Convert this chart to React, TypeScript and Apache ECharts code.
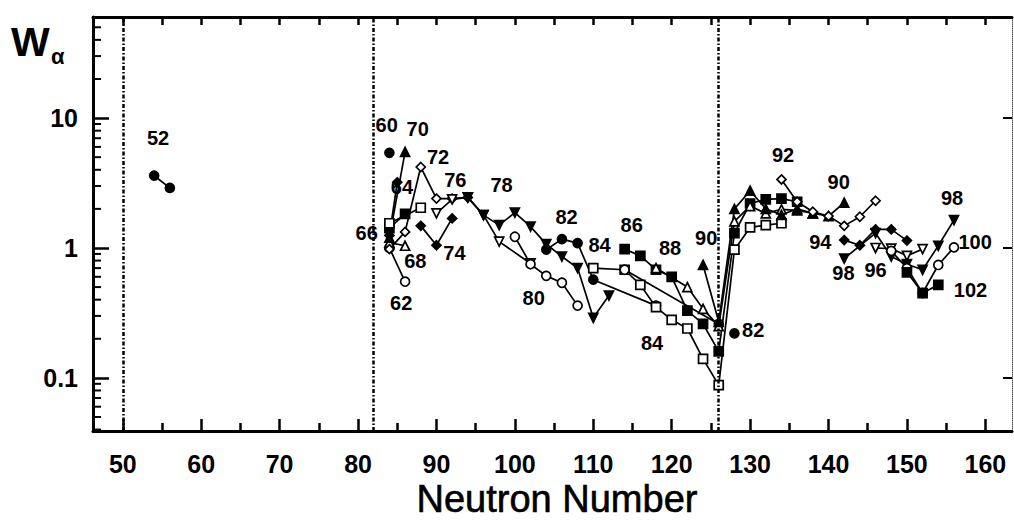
import React, { useEffect, useRef } from "react";
import * as echarts from "echarts";

// ---------- axes ----------
const xMin = 46.2;
const xMax = 163.4;
const yMin = 0.039;
const yMax = 60;
const majorX = [50, 60, 70, 80, 90, 100, 110, 120, 130, 140, 150, 160];
const minorX = [55, 65, 75, 85, 95, 105, 115, 125, 135, 145, 155];
const topX = [50, 55, 60, 65, 70, 75, 80, 85, 90, 95, 100, 105, 110, 115, 120, 125, 130, 135, 140, 145, 150, 155, 160];
const majorY = [0.1, 1, 10];
const majorYLabels = ["0.1", "1", "10"];
const minorY = [0.04, 0.05, 0.06, 0.07, 0.08, 0.09, 0.2, 0.3, 0.4, 0.5, 0.6, 0.7, 0.8, 0.9, 2, 3, 4, 5, 6, 7, 8, 9, 20, 30, 40, 50];
const magicN = [50, 82, 126];

// ---------- data: [neutron number, W_alpha] ----------
const Z52 = [[54, 3.6], [56, 2.9]];
const Z60 = [[84, 5.4]];
const Z62 = [[84, 1.0], [86, 0.55]];
const Z64 = [[84, 1.25], [85, 3.2]];
const Z66 = [[84, 1.42], [86, 1.83]];
const Z66b = [[84, 1.55], [88, 2.04]];
const Z68 = [[84, 1.1], [86, 1.04]];
const Z70 = [[84, 1.2], [86, 5.5]];
const Z72 = [[84, 0.98], [86, 1.33], [88, 4.2], [90, 2.4], [92, 2.4], [94, 2.45]];
const Z74 = [[88, 1.48], [90, 1.05], [92, 1.69]];
const Z76 = [[90, 1.85], [92, 2.37], [94, 2.45], [96, 1.79], [98, 1.12], [102, 0.76]];
const Z78 = [[94, 2.45], [96, 1.79], [98, 1.5], [100, 1.87], [102, 1.46], [104, 1.07], [106, 0.86], [108, 0.7], [110, 0.29], [112, 0.43]];
const Z80 = [[100, 1.22], [102, 0.75], [104, 0.61], [106, 0.54], [108, 0.36]];
const Z82 = [[104, 0.97], [106, 1.17], [108, 1.09], [110, 0.57], [118, 0.36]];
const Z84 = [[110, 0.7], [114, 0.68], [116, 0.52], [118, 0.35], [120, 0.28], [122, 0.24], [124, 0.14], [126, 0.088], [128, 0.97], [130, 1.44], [132, 1.5], [134, 1.55]];
const Z84b = [[114, 0.68], [126, 0.26]];
const Z86 = [[114, 0.98], [116, 0.87], [118, 0.68], [120, 0.6], [122, 0.33], [124, 0.26], [126, 0.16], [128, 1.3], [130, 2.2], [132, 2.37], [134, 2.4], [136, 2.27]];
const Z88 = [[118, 0.7], [122, 0.5], [124, 0.34], [126, 0.25], [128, 1.6], [130, 2.1], [132, 1.85], [134, 1.98], [136, 1.95], [138, 1.85]];
const Z90 = [[124, 0.74], [126, 0.27], [128, 2.0], [130, 2.76], [132, 2.0], [134, 1.8], [136, 2.0], [138, 1.85], [140, 1.76], [142, 2.23]];
const Z82r = [[128, 0.22]];
const Z92 = [[134, 3.37], [136, 2.27], [138, 1.9], [140, 1.76], [142, 1.48], [144, 1.74], [146, 2.31]];
const Z94 = [[142, 1.15], [144, 1.05], [146, 1.39], [148, 1.39], [150, 1.14]];
const Z96 = [[146, 1.0], [148, 0.99], [150, 0.87], [152, 0.98]];
const Z98 = [[142, 0.83], [146, 1.3], [148, 0.86], [150, 0.75], [152, 0.68], [154, 1.04], [156, 1.64]];
const Z100 = [[148, 0.95], [150, 0.7], [152, 0.45], [154, 0.74], [156, 1.01]];
const Z102 = [[150, 0.65], [152, 0.45], [154, 0.52]];

// ---------- Z labels ----------
const zLabels = [
  { t: "52", n: 54.5, w: 6.98 },
  { t: "60", n: 83.65, w: 8.8 },
  { t: "70", n: 87.6, w: 8.3 },
  { t: "72", n: 90.2, w: 5.03 },
  { t: "64", n: 85.6, w: 2.96 },
  { t: "76", n: 92.4, w: 3.34 },
  { t: "78", n: 98.3, w: 3.05 },
  { t: "66", n: 81.1, w: 1.3 },
  { t: "68", n: 87.3, w: 0.8 },
  { t: "74", n: 92.3, w: 0.92 },
  { t: "62", n: 85.5, w: 0.375 },
  { t: "82", n: 106.6, w: 1.74 },
  { t: "84", n: 110.8, w: 1.05 },
  { t: "86", n: 114.9, w: 1.5 },
  { t: "88", n: 119.8, w: 1.0 },
  { t: "90", n: 124.4, w: 1.19 },
  { t: "80", n: 102.4, w: 0.41 },
  { t: "84", n: 117.5, w: 0.185 },
  { t: "82", n: 130.4, w: 0.234 },
  { t: "92", n: 134.2, w: 5.19 },
  { t: "90", n: 141.3, w: 3.24 },
  { t: "94", n: 138.95, w: 1.12 },
  { t: "98", n: 141.9, w: 0.64 },
  { t: "96", n: 146.0, w: 0.68 },
  { t: "98", n: 155.75, w: 2.41 },
  { t: "100", n: 158.7, w: 1.12 },
  { t: "102", n: 158.1, w: 0.475 },
];

const DOWN = "path://M0,0L10,0L5,9Z";
const SYM: Record<string, { symbol: string; fill: string }> = {
  fc: { symbol: "circle", fill: "#000" },
  oc: { symbol: "circle", fill: "#fff" },
  fs: { symbol: "rect", fill: "#000" },
  os: { symbol: "rect", fill: "#fff" },
  ft: { symbol: "triangle", fill: "#000" },
  ot: { symbol: "triangle", fill: "#fff" },
  fd: { symbol: "diamond", fill: "#000" },
  od: { symbol: "diamond", fill: "#fff" },
  fv: { symbol: DOWN, fill: "#000" },
  ov: { symbol: DOWN, fill: "#fff" },
};

const seriesDefs: { name: string; data: number[][]; m: string }[] = [
  { name: "Z52", data: Z52, m: "fc" },
  { name: "Z60", data: Z60, m: "fc" },
  { name: "Z62", data: Z62, m: "oc" },
  { name: "Z64", data: Z64, m: "fd" },
  { name: "Z66", data: Z66, m: "fs" },
  { name: "Z66b", data: Z66b, m: "os" },
  { name: "Z68", data: Z68, m: "ot" },
  { name: "Z70", data: Z70, m: "ft" },
  { name: "Z72", data: Z72, m: "od" },
  { name: "Z74", data: Z74, m: "fd" },
  { name: "Z76", data: Z76, m: "ov" },
  { name: "Z78", data: Z78, m: "fv" },
  { name: "Z80", data: Z80, m: "oc" },
  { name: "Z82", data: Z82, m: "fc" },
  { name: "Z84", data: Z84, m: "os" },
  { name: "Z84b", data: Z84b, m: "oc" },
  { name: "Z86", data: Z86, m: "fs" },
  { name: "Z88", data: Z88, m: "ot" },
  { name: "Z90", data: Z90, m: "ft" },
  { name: "Z82r", data: Z82r, m: "fc" },
  { name: "Z92", data: Z92, m: "od" },
  { name: "Z94", data: Z94, m: "fd" },
  { name: "Z96", data: Z96, m: "ov" },
  { name: "Z98", data: Z98, m: "fv" },
  { name: "Z100", data: Z100, m: "oc" },
  { name: "Z102", data: Z102, m: "fs" },
];

const FONT = "'Liberation Sans', Arial, Helvetica, sans-serif";

function buildOption(): any {
  const lineSeries = seriesDefs.map((s) => ({
    type: "line",
    name: s.name,
    xAxisIndex: 0,
    yAxisIndex: 0,
    data: s.data,
    symbol: SYM[s.m].symbol,
    symbolSize: 9,
    showAllSymbol: true,
    silent: true,
    z: 3,
    lineStyle: { color: "#000", width: 1.7 },
    itemStyle: { color: SYM[s.m].fill, borderColor: "#000", borderWidth: 1.7 },
    emphasis: { disabled: true },
  }));

  return {
    animation: false,
    backgroundColor: "#fff",
    grid: { left: 93, right: 2, top: 17, bottom: 89, containLabel: false },
    xAxis: [
      {
        type: "value",
        min: xMin,
        max: xMax,
        position: "bottom",
        axisLine: { show: true, onZero: false, lineStyle: { color: "#000", width: 3 } },
        axisTick: { show: true, inside: true, length: 12, customValues: majorX, lineStyle: { color: "#000", width: 2.5 } },
        axisLabel: { show: true, customValues: majorX, margin: 20, fontSize: 25, fontWeight: "bold", color: "#000", fontFamily: FONT },
        splitLine: { show: false },
      },
      {
        type: "value",
        min: xMin,
        max: xMax,
        position: "bottom",
        axisLine: { show: false, onZero: false },
        axisTick: { show: true, inside: true, length: 8, customValues: minorX, lineStyle: { color: "#000", width: 2.5 } },
        axisLabel: { show: false },
        splitLine: { show: false },
      },
      {
        type: "value",
        min: xMin,
        max: xMax,
        position: "top",
        axisLine: { show: true, onZero: false, lineStyle: { color: "#000", width: 3 } },
        axisTick: { show: true, inside: true, length: 8, customValues: topX, lineStyle: { color: "#000", width: 2.5 } },
        axisLabel: { show: false },
        splitLine: { show: false },
      },
    ],
    yAxis: [
      {
        type: "log",
        logBase: 10,
        min: yMin,
        max: yMax,
        position: "left",
        axisLine: { show: true, onZero: false, lineStyle: { color: "#000", width: 3 } },
        axisTick: { show: true, inside: true, length: 16, lineStyle: { color: "#000", width: 2.5 } },
        axisLabel: {
          show: true,
          margin: 15,
          fontSize: 25,
          fontWeight: "bold",
          color: "#000",
          fontFamily: FONT,
          formatter: (v: number) => {
            const i = majorY.findIndex((m) => Math.abs(v - m) / m < 1e-6);
            return i >= 0 ? majorYLabels[i] : "";
          },
        },
        splitLine: { show: false },
        minorTick: { show: false },
      },
      {
        type: "log",
        logBase: 10,
        min: yMin,
        max: yMax,
        position: "right",
        axisLine: { show: true, onZero: false, lineStyle: { color: "#555", width: 1, type: "dotted" } },
        axisTick: { show: true, inside: true, length: 9, lineStyle: { color: "#000", width: 2 } },
        axisLabel: { show: false },
        splitLine: { show: false },
      },
    ],
    graphic: [
      { type: "text", x: 11, y: 42, silent: true, style: { text: "W", fontSize: 41, fontWeight: "bold", fill: "#000", fontFamily: FONT, textVerticalAlign: "middle" } },
      { type: "text", x: 51, y: 56, silent: true, style: { text: "α", fontSize: 22, fontWeight: "bold", fill: "#000", fontFamily: FONT, textVerticalAlign: "middle" } },
      { type: "text", x: 557, y: 499, silent: true, style: { text: "Neutron Number", fontSize: 38, fill: "#000", fontFamily: FONT, textAlign: "center", textVerticalAlign: "middle", stroke: "#000", lineWidth: 0.6 } },
    ],
    series: [
      ...lineSeries,
      {
        type: "custom",
        name: "minorYTicks",
        xAxisIndex: 0,
        yAxisIndex: 0,
        silent: true,
        clip: false,
        z: 5,
        data: minorY.map((v) => [xMin, v]),
        renderItem: (_p: any, api: any) => {
          const pt = api.coord([api.value(0), api.value(1)]);
          return {
            type: "line",
            shape: { x1: pt[0], y1: pt[1], x2: pt[0] + 8, y2: pt[1] },
            style: { stroke: "#000", lineWidth: 2 },
          };
        },
      },
      {
        type: "scatter",
        name: "labels",
        xAxisIndex: 0,
        yAxisIndex: 0,
        silent: true,
        z: 10,
        symbol: "circle",
        symbolSize: 1,
        itemStyle: { color: "#fff", opacity: 1 },
        data: zLabels.map((l) => ({ value: [l.n, l.w], name: l.t })),
        label: { show: true, position: "inside", formatter: "{b}", fontSize: 20, fontWeight: "bold", color: "#000", opacity: 1, fontFamily: FONT },
        emphasis: { disabled: true },
        markLine: {
          silent: true,
          symbol: ["none", "none"],
          label: { show: false },
          lineStyle: { color: "#000", width: 2.5, opacity: 1, type: [4, 2, 1.5, 2] },
          data: magicN.map((n) => ({ xAxis: n })),
        },
      },
    ],
  };
}

export default function App() {
  const ref = useRef<HTMLDivElement>(null);
  useEffect(() => {
    if (!ref.current) return;
    const chart = echarts.init(ref.current, null, { renderer: "svg" });
    chart.setOption(buildOption());
    return () => chart.dispose();
  }, []);
  return <div ref={ref} style={{ position: "fixed", left: 0, top: 0, width: 1014, height: 520, background: "#fff" }} />;
}
